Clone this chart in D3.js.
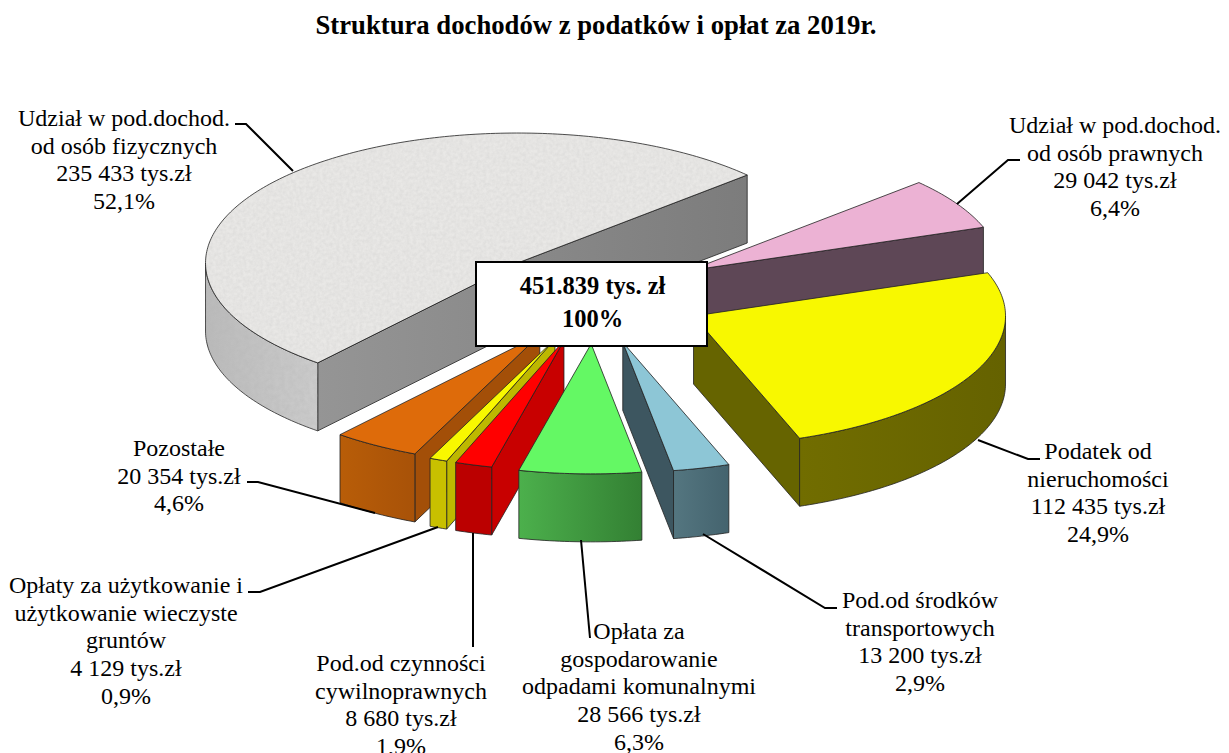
<!DOCTYPE html>
<html><head><meta charset="utf-8">
<script src="https://cdnjs.cloudflare.com/ajax/libs/d3/7.8.5/d3.min.js"></script>
<style>html,body{margin:0;background:#fff;overflow:hidden}svg{display:block}text{font-family:"Liberation Serif",serif;fill:#000}</style>
</head><body><svg id="c" width="1229" height="753"></svg>
<script>
const categories=["Udział w pod.dochod. od osób prawnych","Podatek od nieruchomości","Pod.od środków transportowych","Opłata za gospodarowanie odpadami komunalnymi","Pod.od czynności cywilnoprawnych","Opłaty za użytkowanie i użytkowanie wieczyste gruntów","Pozostałe","Udział w pod.dochod. od osób fizycznych"];
const values=[29042,112435,13200,28566,8680,4129,20354,235433];
const explosion=[110,109,110,110,107,107,105,107];
const topColors=["#ecb2d4","#f8f800","#8dc6d6","#64f864","#ff0000","#f8f800","#de6b0a","url(#granite)"];
const wallColors=["#5e4756","#666400","#3d5660","#3c9a3c","#c80000","#bdb800","#a34f08","url(#wallGray)"];
const rimColors=[["#5e4756","#5e4756"],["#716d00","#656200"],["#547680","#44636e"],["#4cb04c","#338033"],["#bb0000","#bb0000"],["#c8c000","#c8c000"],["#b85d08","#a85208"],["#bababa","#cccccc"]];
const labelLines=[["Udział w pod.dochod.","od osób prawnych","29 042 tys.zł","6,4%"],["Podatek od","nieruchomości","112 435 tys.zł","24,9%"],["Pod.od środków","transportowych","13 200 tys.zł","2,9%"],["Opłata za","gospodarowanie","odpadami komunalnymi","28 566 tys.zł","6,3%"],["Pod.od czynności","cywilnoprawnych","8 680 tys.zł","1,9%"],["Opłaty za użytkowanie i","użytkowanie wieczyste","gruntów","4 129 tys.zł","0,9%"],["Pozostałe","20 354 tys.zł","4,6%"],["Udział w pod.dochod.","od osób fizycznych","235 433 tys.zł","52,1%"]];
const labelCx=[1115,1098,920,639,401,126,179,124];
const labelBase=[133,459,608,639,671,593,456,126];
const leaders=[[[957,204],[1008,160],[1020,160]],[[978,440],[1028,459],[1040,459]],[[703,534],[825,608],[837,608]],[[581,540],[590,638]],[[473,533],[473,647]],[[438,527],[260,592],[248,592]],[[375,513],[258,482],[247,482]],[[293,171],[246,124],[235,124]]];
const title="Struktura dochodów z podatków i opłat za 2019r.";
const centerLines=["451.839 tys. zł","100%"];

const svg=d3.select("#c");
const CX=595,CY=295.5,R=312,RY=130,DEPTH=68,EXPLY=0.44,FS=24,LH=27.7,START=-42.6;
const defs=svg.append("defs");
function noise(id,alpha,off,freq){
  const f=defs.append("filter").attr("id",id).attr("x",0).attr("y",0).attr("width","100%").attr("height","100%");
  f.append("feTurbulence").attr("type","fractalNoise").attr("baseFrequency",freq).attr("numOctaves",3).attr("seed",4);
  f.append("feColorMatrix").attr("type","matrix").attr("values",`0 0 0 0 0.45  0 0 0 0 0.45  0 0 0 0 0.45  ${alpha} 0 0 0 ${off}`);
}
noise("n1",0.32,-0.08,0.3);noise("n2",0.5,-0.12,0.2);
const p=defs.append("pattern").attr("id","granite").attr("patternUnits","userSpaceOnUse").attr("width",900).attr("height",500);
p.append("rect").attr("width",900).attr("height",500).attr("fill","#e9e8e6");
p.append("rect").attr("width",900).attr("height",500).attr("filter","url(#n1)");
const p2=defs.append("pattern").attr("id","rimNoise").attr("patternUnits","userSpaceOnUse").attr("width",900).attr("height",600);
p2.append("rect").attr("width",900).attr("height",600).attr("filter","url(#n2)");
rimColors.forEach((c,i)=>{const g=defs.append("linearGradient").attr("id","rim"+i);
  g.append("stop").attr("offset","0").attr("stop-color",c[0]);g.append("stop").attr("offset","1").attr("stop-color",c[1]);});
const wg=defs.append("linearGradient").attr("id","wallGray").attr("gradientUnits","userSpaceOnUse").attr("x1",317).attr("x2",748).attr("y1",0).attr("y2",0);
wg.append("stop").attr("offset",0).attr("stop-color","#959595");wg.append("stop").attr("offset",1).attr("stop-color","#7c7c7c");

// d3.pie angles run clockwise from north; the pie starts at the pink slice
const a0=(START+90)*Math.PI/180;
const pie=d3.pie().sort(null).value(d=>d).startAngle(a0).endAngle(a0+2*Math.PI);
const arcs=pie(values);
const polar=(a,o)=>[o[0]+R*Math.sin(a),o[1]-RY*Math.cos(a)];
const lineGen=d3.line();
const order=[7,0,1,6,5,4,2,3];
function sampled(s,e,o){const n=Math.max(2,Math.ceil(Math.abs(e-s)*60));return d3.range(n+1).map(k=>polar(s+(e-s)*k/n,o));}
const g=svg.append("g");
function face(pts,fill){return g.append("path").attr("d",lineGen(pts)+"Z").attr("fill",fill).attr("stroke","#222").attr("stroke-opacity",0.8).attr("stroke-width",1).attr("stroke-linejoin","round");}
order.forEach(i=>{
  const d=arcs[i],mid=(d.startAngle+d.endAngle)/2,E=explosion[i];
  const o=[CX+E*Math.sin(mid),CY-E*EXPLY*Math.cos(mid)];
  const down=q=>[q[0],q[1]+DEPTH];
  // side faces: only the ones whose outward normal points at the viewer
  [[d.startAngle,Math.sin(d.startAngle)<0],[d.endAngle,Math.sin(d.endAngle)>0]].forEach(([a,vis])=>{
    if(!vis)return;const q=polar(a,o);face([o,q,down(q),down(o)],wallColors[i]);
  });
  // rim: part of the arc whose normal faces the viewer
  const tau=2*Math.PI;
  for(const sh of [-tau,0,tau]){
    const lo=Math.max(d.startAngle,Math.PI/2+sh),hi=Math.min(d.endAngle,3*Math.PI/2+sh);
    if(hi>lo){const top=sampled(lo,hi,o);const poly=top.concat(top.map(down).reverse());face(poly,"url(#rim"+i+")");
      if(i===7)g.append("path").attr("d",lineGen(poly)+"Z").attr("fill","url(#rimNoise)");}
  }
  face([o].concat(sampled(d.startAngle,d.endAngle,o)),topColors[i]);
});
const lg=svg.append("g");
leaders.forEach(l=>lg.append("path").attr("d",lineGen(l)).attr("fill","none").attr("stroke","#000").attr("stroke-width",2));
const tg=svg.append("g");
labelLines.forEach((lines,i)=>lines.forEach((t,j)=>tg.append("text").attr("x",labelCx[i]).attr("y",labelBase[i]+j*LH).attr("text-anchor","middle").attr("font-size",FS).text(t)));
svg.append("text").attr("x",596).attr("y",34).attr("text-anchor","middle").attr("font-size",26.7).attr("font-weight","bold").text(title);
svg.append("rect").attr("x",476).attr("y",262).attr("width",231).attr("height",84).attr("fill","#fff").attr("stroke","#000").attr("stroke-width",2);
centerLines.forEach((t,j)=>svg.append("text").attr("x",592.5).attr("y",294+j*33).attr("text-anchor","middle").attr("font-size",24.5).attr("font-weight","bold").text(t));
</script></body></html>
